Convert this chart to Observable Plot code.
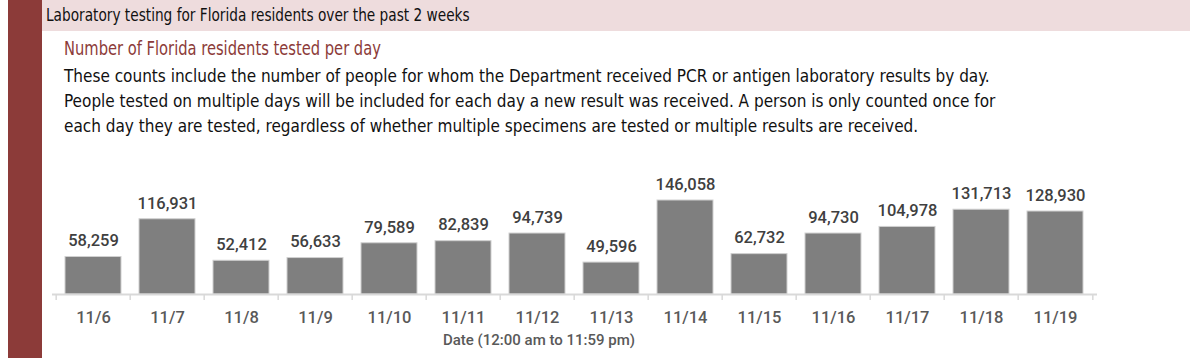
<!DOCTYPE html>
<html>
<head>
<meta charset="utf-8">
<script src="https://cdn.jsdelivr.net/npm/d3@7"></script>
<script src="https://cdn.jsdelivr.net/npm/@observablehq/plot@0.6"></script>
<style>
  html, body { margin: 0; padding: 0; background: #fff; }
  body { width: 1200px; height: 358px; position: relative; overflow: hidden;
         font-family: "DejaVu Sans Condensed", "Roboto", sans-serif; }
  #redbar { position: absolute; left: 8px; top: 0; width: 34px; height: 358px; background: #8c3b39; }
  #header { position: absolute; left: 42px; top: 0; width: 1148px; height: 31px; background: #eedcdd; }
  #title { position: absolute; left: 46px; top: 4px; font-size: 18px; color: #111; white-space: nowrap;
           transform: scaleX(0.845); transform-origin: 0 0; }
  #subtitle { position: absolute; left: 64px; top: 37px; font-size: 19px; color: #8c3b39; white-space: nowrap;
              transform: scaleX(0.86); transform-origin: 0 0; }
  #desc { position: absolute; left: 64px; top: 64px; font-size: 17px; color: #111; line-height: 25px; white-space: nowrap; }
  #chart { position: absolute; left: 0; top: 140px; }
</style>
</head>
<body>
<div id="redbar"></div>
<div id="header"></div>
<div id="title">Laboratory testing for Florida residents over the past 2 weeks</div>
<div id="subtitle">Number of Florida residents tested per day</div>
<div id="desc">These counts include the number of people for whom the Department received PCR or antigen laboratory results by day.<br>People tested on multiple days will be included for each day a new result was received. A person is only counted once for<br>each day they are tested, regardless of whether multiple specimens are tested or multiple results are received.</div>
<div id="chart"></div>
<script>
const dates = ["11/6","11/7","11/8","11/9","11/10","11/11","11/12","11/13","11/14","11/15","11/16","11/17","11/18","11/19"];
const tested = [58259,116931,52412,56633,79589,82839,94739,49596,146058,62732,94730,104978,131713,128930];
const xTitle = "Date (12:00 am to 11:59 pm)";

const data = dates.map((d, i) => ({date: d, value: tested[i]}));
const fmt = d3.format(",");
const font = 'Roboto, "DejaVu Sans Condensed", sans-serif';

const W = 1200, mL = 52, mR = 103;
const step = (W - mL - mR) / dates.length;

const plot = Plot.plot({
  width: W,
  height: 218,
  marginLeft: mL,
  marginRight: mR,
  marginTop: 60,
  marginBottom: 64,
  style: {fontFamily: font, background: "transparent", overflow: "visible"},
  x: {domain: dates, paddingInner: 0.24, paddingOuter: 0.12, axis: null},
  y: {domain: [0, d3.max(tested)], axis: null},
  marks: [
    Plot.barY(data, {x: "date", y: "value", fill: "#7f7f7f", stroke: "#d0d0d0", strokeWidth: 1}),
    Plot.ruleY([0], {stroke: "#d9d9d9", strokeWidth: 2}),
    Plot.ruleX(dates, {x: d => d, y1: 0, y2: 0, dx: -step / 2, insetBottom: -6, stroke: "#d9d9d9", strokeWidth: 1.5}),
    Plot.ruleX(dates.slice(-1), {x: d => d, y1: 0, y2: 0, dx: step / 2, insetBottom: -6, stroke: "#d9d9d9", strokeWidth: 1.5}),
    Plot.text(data, {x: "date", y: "value", text: d => fmt(d.value), dy: -16, lineAnchor: "middle", fontSize: 16.5, fontWeight: 500, fill: "#404040"}),
    Plot.text(dates, {x: d => d, frameAnchor: "bottom", lineAnchor: "middle", dy: 23, fontSize: 16.5, fontWeight: 500, fill: "#595959"}),
    Plot.text([xTitle], {frameAnchor: "bottom", lineAnchor: "middle", dy: 46, dx: -36, fontSize: 15, fontWeight: 500, fill: "#595959"})
  ]
});
document.getElementById("chart").appendChild(plot);
</script>
</body>
</html>
